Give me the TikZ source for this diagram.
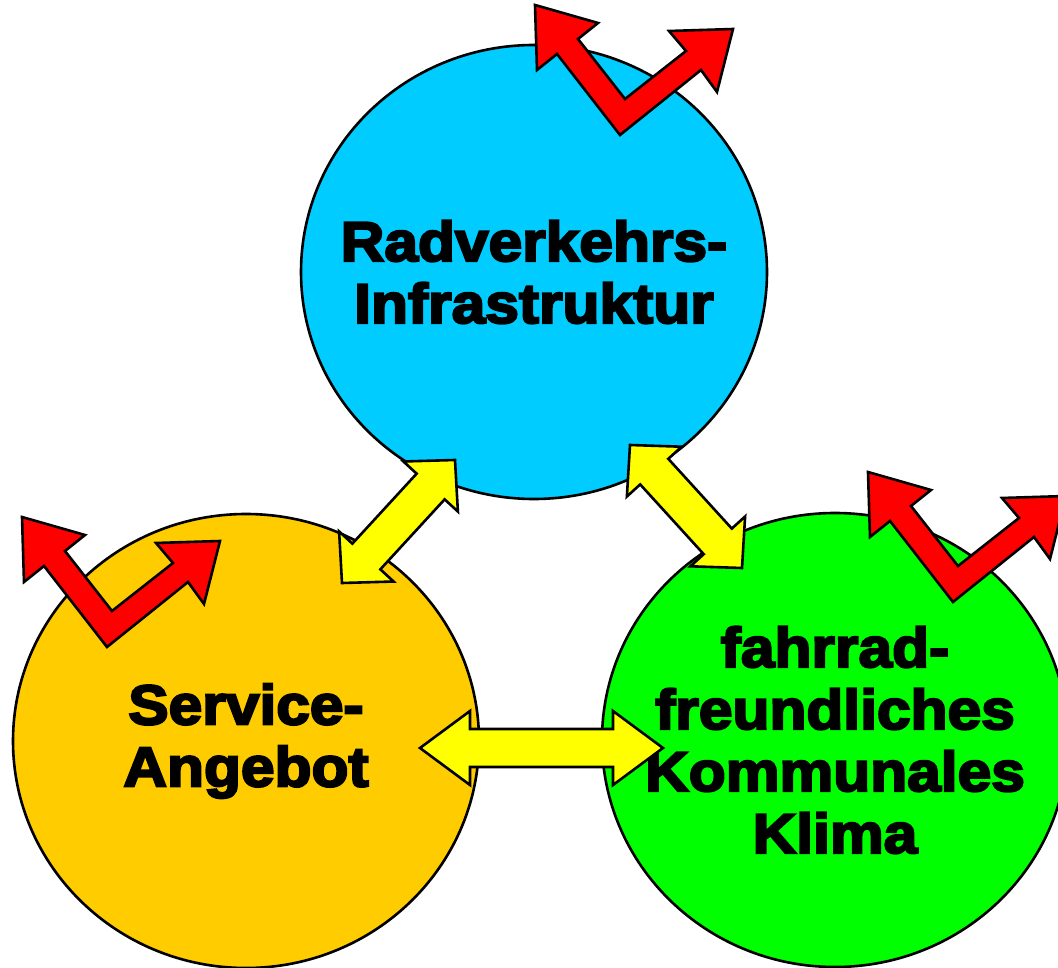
\documentclass[tikz,border=0pt]{standalone}
\usepackage{fontspec}
\usetikzlibrary{shapes.geometric}
\usetikzlibrary{calc}
\newfontfamily\heavyfont[FakeBold=4,FakeStretch=1.08]{Liberation Sans Bold}
\definecolor{skyblue}{RGB}{0,204,255}
\definecolor{amber}{RGB}{255,204,0}
\definecolor{brightgreen}{RGB}{0,255,0}
\definecolor{pureyellow}{RGB}{255,255,0}

\begin{document}
\begin{tikzpicture}
[x=1pt,y=-1pt,thick,%
  circ/.style={shape=ellipse,draw,line width=2.6pt,minimum width=466pt,
    minimum height=454pt,inner sep=-60pt,align=center,
    font=\heavyfont\fontsize{56}{62}\selectfont},%
  fat arrow/.style={draw,line width=2.6pt,fill=pureyellow,line join=miter,
    to path={%
      -- ($(\tikztostart)!#1!(\tikztotarget)!37pt!90:(\tikztotarget)$)
      -- ($(\tikztostart)!#1!(\tikztotarget)!19pt!90:(\tikztotarget)$)
      -- ($(\tikztotarget)!#1!(\tikztostart)!19pt!-90:(\tikztostart)$)
      -- ($(\tikztotarget)!#1!(\tikztostart)!37pt!-90:(\tikztostart)$)
      -- (\tikztotarget)
      -- ($(\tikztotarget)!#1!(\tikztostart)!37pt!90:(\tikztostart)$)
      -- ($(\tikztotarget)!#1!(\tikztostart)!19pt!90:(\tikztostart)$)
      -- ($(\tikztostart)!#1!(\tikztotarget)!19pt!-90:(\tikztotarget)$)
      -- ($(\tikztostart)!#1!(\tikztotarget)!37pt!-90:(\tikztotarget)$)
      -- cycle}},%
  fat arrow/.default=50pt,%
  zigzag/.pic={%
    \filldraw[fill=red,draw=black,line width=2.6pt,line join=miter]
      (-85,-130) -- (-22,-112) -- (-42,-96) -- (5,-36) -- (66,-84)
      -- (49,-104) -- (113,-106) -- (97,-43) -- (81,-65) -- (0,0)
      -- (-63,-81) -- (-83,-65) -- cycle;}]
\useasboundingbox (0,0) rectangle (1058,968);
\node[circ,fill=skyblue] (infra) at (534,272) {Radverkehrs-\\Infrastruktur};
%%
\node[circ,fill=amber] (service) at (246,741) {Service-\\Angebot};
%%
\node[circ,fill=brightgreen] (klima) at (835,740)
  {fahrrad-\\freundliches\\Kommunales\\Klima};
%%
\coordinate (service tip) at (342,583);
\coordinate (infra tip left) at (455,460);
\coordinate (infra tip right) at (630,445);
\coordinate (klima tip top) at (742,568);
\coordinate (service tip right) at (420,748);
\coordinate (klima tip left) at (663,748);
\draw[fat arrow=36pt] (service tip) to (infra tip left);
\draw[fat arrow=36pt] (infra tip right) to (klima tip top);
\draw[fat arrow] (service tip right) to (klima tip left);
%%
\foreach \tipX/\tipY in {620/135, 107/647, 953/602}
{
  \pic at (\tipX,\tipY) {zigzag};
}
\end{tikzpicture}
\end{document}
